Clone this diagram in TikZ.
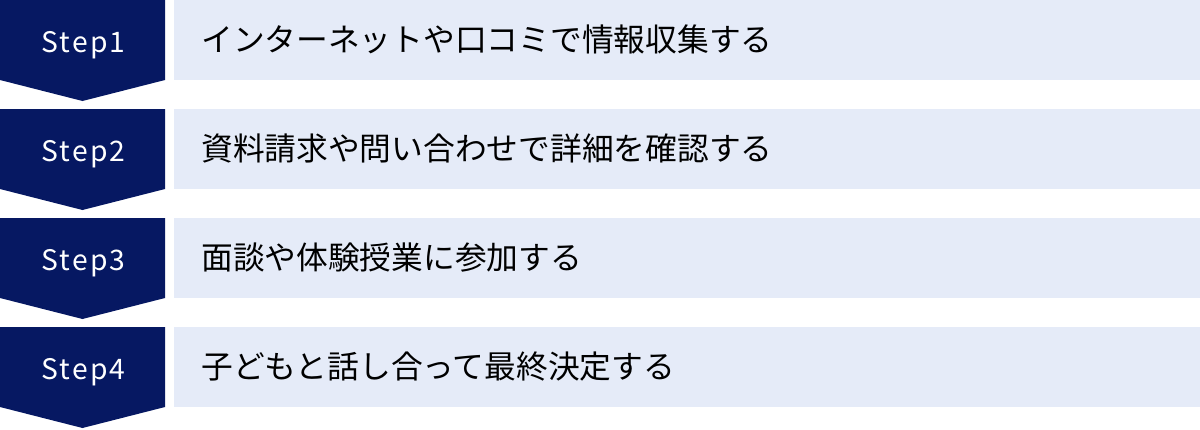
\documentclass[tikz,border=0pt]{standalone}
\usepackage{fontspec}
\setmainfont{Noto Sans CJK JP}
\newfontfamily\stepfont[LetterSpace=8]{Noto Sans CJK JP}
\definecolor{navy}{HTML}{061862}
\definecolor{paleblue}{HTML}{E5EBF8}
\begin{document}
\begin{tikzpicture}[x=0.75pt,y=-0.75pt,
  stepshape/.style={fill=navy,draw=none},
  textbox/.style={fill=paleblue,draw=none},
  steplabel/.style={text=white,font=\stepfont\fontsize{21.2pt}{24pt}\selectfont,anchor=base,inner sep=0pt},
  desclabel/.style={text=black,font=\fontsize{23.8pt}{28pt}\selectfont,anchor=base west,inner sep=0pt}]
\useasboundingbox (0,0) rectangle (1200,429);
\foreach \r/\lab/\txt in {0/Step1/インターネットや口コミで情報収集する,
                          109/Step2/資料請求や問い合わせで詳細を確認する,
                          218/Step3/面談や体験授業に参加する,
                          327/Step4/子どもと話し合って最終決定する}{
  \fill[stepshape] (0,\r) -- (165,\r) -- (165,\r+80) -- (82.5,\r+101) -- (0,\r+80) -- cycle;
  \fill[textbox] (174,\r) rectangle (1200,\r+80);
  \node[steplabel] (s\r) at (83.5,\r+52) {\lab};
  \node[desclabel] (d\r) at (201,\r+51) {\txt};
}
\end{tikzpicture}
\end{document}
